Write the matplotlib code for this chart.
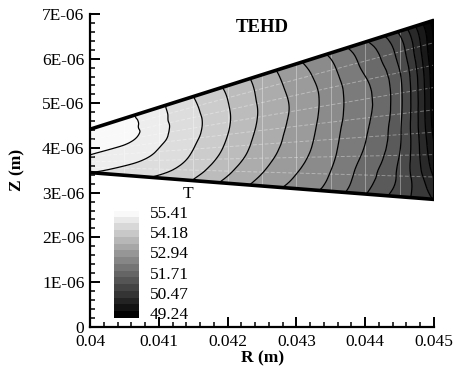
import matplotlib
matplotlib.use("Agg")
import matplotlib.pyplot as plt
import matplotlib.tri as mtri
import numpy as np
from matplotlib.ticker import MultipleLocator, FuncFormatter
from matplotlib.colors import ListedColormap, BoundaryNorm

# ---------------- data ----------------
r_nodes = [0.0400, 0.0405, 0.0410, 0.0415, 0.0420, 0.0425,
           0.0430, 0.0435, 0.0440, 0.0445, 0.0450]
s_nodes = [0.0, 0.125, 0.25, 0.375, 0.5, 0.625, 0.75, 0.875, 1.0]   # fraction of gap height
wall_r = [0.040, 0.045]
z_bottom = [3.45e-6, 2.85e-6]
z_top = [4.42e-6, 6.86e-6]

# temperature on the mesh, rows from bottom wall (s=0) to top wall (s=1)
T_table = [
    [55.00, 54.80, 54.52, 54.16, 53.64, 53.20, 52.78, 52.37, 51.73, 51.09, 50.45],
    [55.15, 54.95, 54.72, 54.35, 53.84, 53.37, 52.95, 52.51, 51.91, 51.21, 50.05],
    [55.28, 55.10, 54.87, 54.50, 54.00, 53.51, 53.08, 52.61, 52.05, 51.29, 49.75],
    [55.39, 55.22, 54.97, 54.59, 54.11, 53.60, 53.17, 52.67, 52.14, 51.35, 49.55],
    [55.48, 55.36, 55.06, 54.66, 54.18, 53.66, 53.22, 52.72, 52.20, 51.39, 49.45],
    [55.58, 55.52, 55.13, 54.70, 54.22, 53.70, 53.26, 52.75, 52.22, 51.40, 49.40],
    [55.60, 55.56, 55.14, 54.69, 54.21, 53.69, 53.24, 52.73, 52.15, 51.32, 49.33],
    [55.57, 55.54, 55.13, 54.65, 54.17, 53.65, 53.16, 52.63, 52.00, 51.12, 49.20],
    [55.52, 55.50, 55.10, 54.59, 54.10, 53.58, 53.03, 52.45, 51.75, 50.80, 49.00],
]

t_min, t_max, n_levels = 49.24, 55.41, 16
legend_labels = ["55.41", "54.18", "52.94", "51.71", "50.47", "49.24"]
title = "TEHD"
xlabel = "R (m)"
ylabel = "Z (m)"
legend_title = "T"

# ---------------- figure ----------------
W, H = 454, 374
fig = plt.figure(figsize=(W / 100, H / 100), dpi=100)
plt.rcParams["font.family"] = ["Liberation Serif", "DejaVu Serif"]
FS = 12.5

ax_l, ax_r, ax_t, ax_b = 90, 434, 14, 326.7
ax = fig.add_axes([ax_l / W, (H - ax_b) / H, (ax_r - ax_l) / W, (ax_b - ax_t) / H])

# mesh in normalized space, refined by matplotlib's cubic interpolator
r_arr = np.array(r_nodes)
s_arr = np.array(s_nodes)
T = np.array(T_table)
U, S = np.meshgrid((r_arr - wall_r[0]) / (wall_r[1] - wall_r[0]), s_arr)
tri_n = mtri.Triangulation(U.ravel(), S.ravel())
refiner = mtri.UniformTriRefiner(tri_n)
tri_f, T_f = refiner.refine_field(T.ravel(), subdiv=3)


def to_phys(u, s):
    R = wall_r[0] + u * (wall_r[1] - wall_r[0])
    zb = np.interp(R, wall_r, z_bottom)
    zt = np.interp(R, wall_r, z_top)
    return R, zb + s * (zt - zb)


Rf, Zf = to_phys(tri_f.x, tri_f.y)
tri_p = mtri.Triangulation(Rf, Zf, tri_f.triangles)

levels = np.linspace(t_min, t_max, n_levels)
nb = n_levels - 1
band_grays = [(k + 0.5) / (nb + 0.6) for k in range(nb)]
cmap = ListedColormap([(g, g, g) for g in band_grays])
cmap.set_under((0.0, 0.0, 0.0))
cmap.set_over((0.975, 0.975, 0.975))
norm = BoundaryNorm(levels, cmap.N)
ax.tricontourf(tri_p, T_f, levels=levels, cmap=cmap, norm=norm, extend="both")

# faint mesh lines
for r in r_nodes[1:-1]:
    _, zz = to_phys(np.array([(r - wall_r[0]) / (wall_r[1] - wall_r[0])] * 2), np.array([0.0, 1.0]))
    ax.plot([r, r], zz, color="white", lw=0.7, alpha=0.35, zorder=2)
for s in s_nodes[1:-1]:
    rr, zz = to_phys(np.array([0.0, 1.0]), np.array([s, s]))
    ax.plot(rr, zz, color="white", lw=0.7, alpha=0.35, ls=(0, (4, 2)), zorder=2)

ax.tricontour(tri_p, T_f, levels=levels, colors="black", linewidths=0.9, zorder=3)

# walls
ax.plot(wall_r, z_top, color="black", lw=2.6, solid_capstyle="butt", zorder=4)
ax.plot(wall_r, z_bottom, color="black", lw=2.6, solid_capstyle="butt", zorder=4)
ax.plot([wall_r[1], wall_r[1]], [z_bottom[1], z_top[1]], color="black", lw=2.2, zorder=4)

# axes styling
ax.set_xlim(0.04, 0.045)
ax.set_ylim(0, 7e-6)
for sp in ("top", "right"):
    ax.spines[sp].set_visible(False)
for sp in ("left", "bottom"):
    ax.spines[sp].set_linewidth(1.6)
ax.xaxis.set_major_locator(MultipleLocator(0.001))
ax.xaxis.set_minor_locator(MultipleLocator(0.0002))
ax.yaxis.set_major_locator(MultipleLocator(1e-6))
ax.yaxis.set_minor_locator(MultipleLocator(0.2e-6))
ax.xaxis.set_major_formatter(FuncFormatter(lambda v, p: f"{v:.3f}".rstrip("0")))
ax.yaxis.set_major_formatter(FuncFormatter(lambda v, p: "0" if abs(v) < 1e-12 else f"{v / 1e-6:.0f}E-06"))
ax.tick_params(which="major", direction="in", length=7, width=1.4, labelsize=FS, pad=3)
ax.tick_params(which="minor", direction="in", length=3.5, width=1.1)
ax.tick_params(axis="x", pad=5)
ax.tick_params(axis="y", pad=4)

fig.text(262.5 / W, 1 - 358 / H, xlabel, ha="center", va="center", fontsize=FS, fontweight="bold")
fig.text(17 / W, 1 - 170 / H, ylabel, ha="center", va="center", fontsize=FS, fontweight="bold", rotation=90)
fig.text(262.5 / W, 1 - 27.5 / H, title, ha="center", va="center", fontsize=13.5, fontweight="bold")

# legend
lg_x0, lg_x1, lg_top, lg_bot = 114, 139, 210.7, 318.3
lax = fig.add_axes([lg_x0 / W, (H - lg_bot) / H, (lg_x1 - lg_x0) / W, (lg_bot - lg_top) / H])
sw = np.array([k / (n_levels - 1) * 0.97 + 0.01 for k in range(n_levels)])[::-1]
lax.imshow(np.stack([sw, sw, sw], axis=-1)[:, None, :], aspect="auto", interpolation="nearest")
lax.set_axis_off()
step = (lg_bot - lg_top) / n_levels
for i, lab in enumerate(legend_labels):
    yc = lg_top + step * (3 * i + 0.5)
    fig.text(150 / W, 1 - yc / H, lab, ha="left", va="center", fontsize=FS)
fig.text(188 / W, 1 - 194 / H, legend_title, ha="center", va="center", fontsize=FS)

fig.savefig("out.png", dpi=100)
